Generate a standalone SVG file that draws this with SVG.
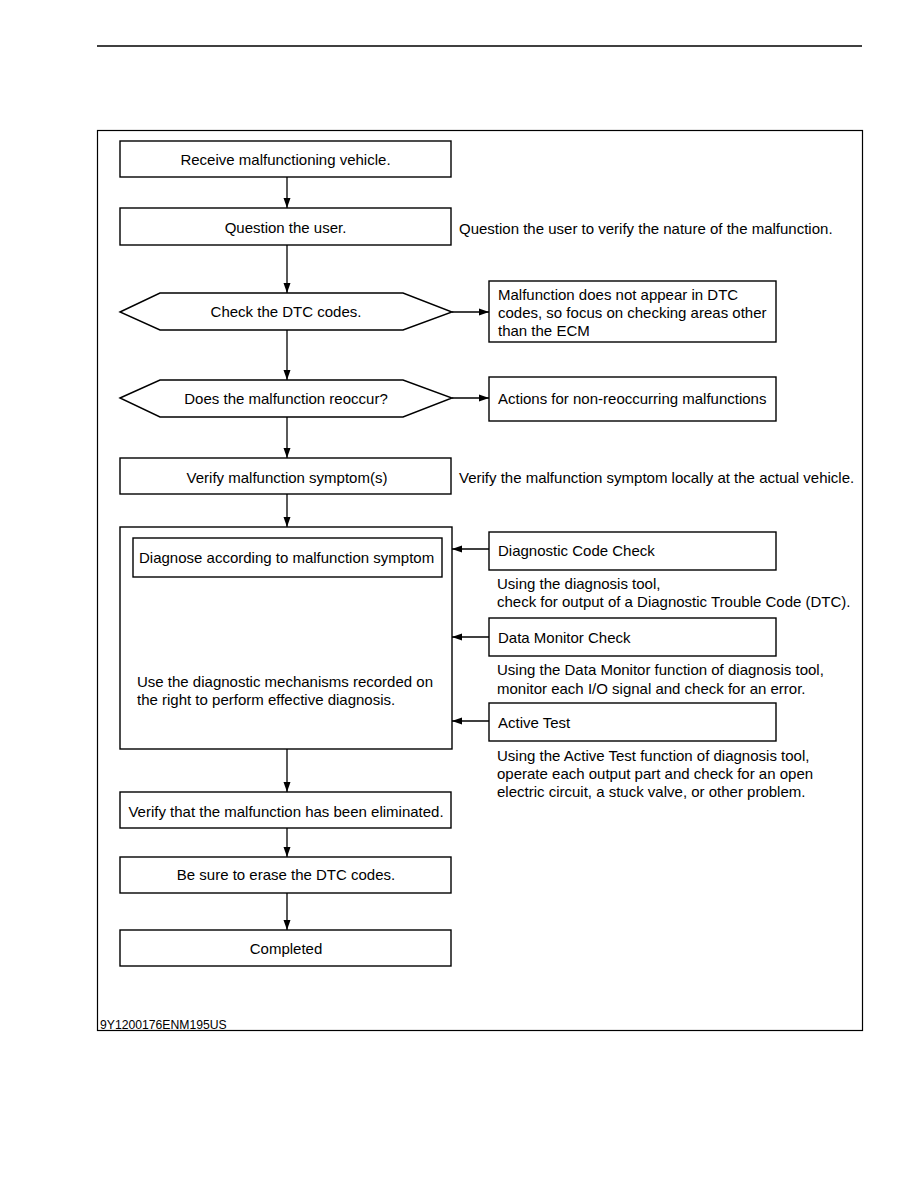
<svg xmlns="http://www.w3.org/2000/svg" width="918" height="1188" viewBox="0 0 918 1188">
<defs>
<marker id="ah" markerWidth="11" markerHeight="8" refX="10" refY="4" orient="auto" markerUnits="userSpaceOnUse">
<path d="M0,0.5 L10,4 L0,7.5 z" fill="#000"/>
</marker>
<style>
.b{fill:#fff;stroke:#000;stroke-width:1.4}
.t{font-family:"Liberation Sans",Arial,sans-serif;font-size:15px;fill:#000}
.c{text-anchor:middle}
.l{fill:none;stroke:#000;stroke-width:1.3;marker-end:url(#ah)}
</style>
</defs>
<rect width="918" height="1188" fill="#fff"/>
<line x1="97" y1="46" x2="862" y2="46" stroke="#000" stroke-width="1.5"/>
<rect x="97.5" y="130.5" width="765" height="900" fill="none" stroke="#000" stroke-width="1.2"/>

<g id="connectors">
<line class="l" x1="287" y1="177" x2="287" y2="208"/>
<line class="l" x1="287" y1="245" x2="287" y2="293"/>
<line class="l" x1="287" y1="330" x2="287" y2="380"/>
<line class="l" x1="287" y1="417" x2="287" y2="458"/>
<line class="l" x1="287" y1="494" x2="287" y2="527"/>
<line class="l" x1="287" y1="749" x2="287" y2="792"/>
<line class="l" x1="287" y1="828" x2="287" y2="857"/>
<line class="l" x1="287" y1="893" x2="287" y2="930"/>
<line class="l" x1="452" y1="312" x2="489" y2="312"/>
<line class="l" x1="452" y1="398" x2="489" y2="398"/>
<line class="l" x1="489" y1="549" x2="452" y2="549"/>
<line class="l" x1="489" y1="637" x2="452" y2="637"/>
<line class="l" x1="489" y1="721" x2="452" y2="721"/>
</g>

<g id="n1"><rect class="b" x="120" y="141" width="331" height="36"/><text class="t c" x="285.5" y="164.5">Receive malfunctioning vehicle.</text></g>
<g id="n2"><rect class="b" x="120" y="208" width="331" height="37"/><text class="t c" x="285.5" y="232.5">Question the user.</text></g>
<g id="n2note"><text class="t" x="459" y="233.5">Question the user to verify the nature of the malfunction.</text></g>
<g id="n3"><polygon class="b" points="120,312 160,293 403,293 452,312 403,330 160,330"/><text class="t c" x="286" y="316.5">Check the DTC codes.</text></g>
<g id="n3r"><rect class="b" x="489" y="281" width="287" height="61"/><text class="t" x="498" y="300">Malfunction does not appear in DTC</text><text class="t" x="498" y="318">codes, so focus on checking areas other</text><text class="t" x="498" y="336">than the ECM</text></g>
<g id="n4"><polygon class="b" points="120,398 160,380 403,380 452,398 403,417 160,417"/><text class="t c" x="286" y="403.5">Does the malfunction reoccur?</text></g>
<g id="n4r"><rect class="b" x="489" y="377" width="287" height="44"/><text class="t" x="498" y="403.5">Actions for non-reoccurring malfunctions</text></g>
<g id="n5"><rect class="b" x="120" y="458" width="331" height="36"/><text class="t c" x="287" y="482.5">Verify malfunction symptom(s)</text></g>
<g id="n5note"><text class="t" x="459" y="482.5">Verify the malfunction symptom locally at the actual vehicle.</text></g>
<g id="n6"><rect class="b" x="120" y="527" width="332" height="222"/>
<rect class="b" x="133" y="538" width="309" height="39"/><text class="t" x="139" y="562.5">Diagnose according to malfunction symptom</text>
<text class="t" x="137" y="686.5">Use the diagnostic mechanisms recorded on</text><text class="t" x="137" y="704.5">the right to perform effective diagnosis.</text></g>
<g id="m1"><rect class="b" x="489" y="532" width="287" height="38"/><text class="t" x="498" y="555.5">Diagnostic Code Check</text>
<text class="t" x="497" y="588.5">Using the diagnosis tool,</text><text class="t" x="497" y="606.5">check for output of a Diagnostic Trouble Code (DTC).</text></g>
<g id="m2"><rect class="b" x="489" y="618" width="287" height="38"/><text class="t" x="498" y="642.5">Data Monitor Check</text>
<text class="t" x="497" y="674.5">Using the Data Monitor function of diagnosis tool,</text><text class="t" x="497" y="693.5">monitor each I/O signal and check for an error.</text></g>
<g id="m3"><rect class="b" x="489" y="703" width="287" height="38"/><text class="t" x="498" y="727.5">Active Test</text>
<text class="t" x="497" y="760.5">Using the Active Test function of diagnosis tool,</text><text class="t" x="497" y="778.5">operate each output part and check for an open</text><text class="t" x="497" y="796.5">electric circuit, a stuck valve, or other problem.</text></g>
<g id="n7"><rect class="b" x="120" y="792" width="331" height="36"/><text class="t c" x="286" y="816.5">Verify that the malfunction has been eliminated.</text></g>
<g id="n8"><rect class="b" x="120" y="857" width="331" height="36"/><text class="t c" x="286" y="879.5">Be sure to erase the DTC codes.</text></g>
<g id="n9"><rect class="b" x="120" y="930" width="331" height="36"/><text class="t c" x="286" y="953.5">Completed</text></g>
<text x="100" y="1028.5" font-family="Liberation Sans,Arial,sans-serif" font-size="12.2" fill="#000">9Y1200176ENM195US</text>
</svg>
